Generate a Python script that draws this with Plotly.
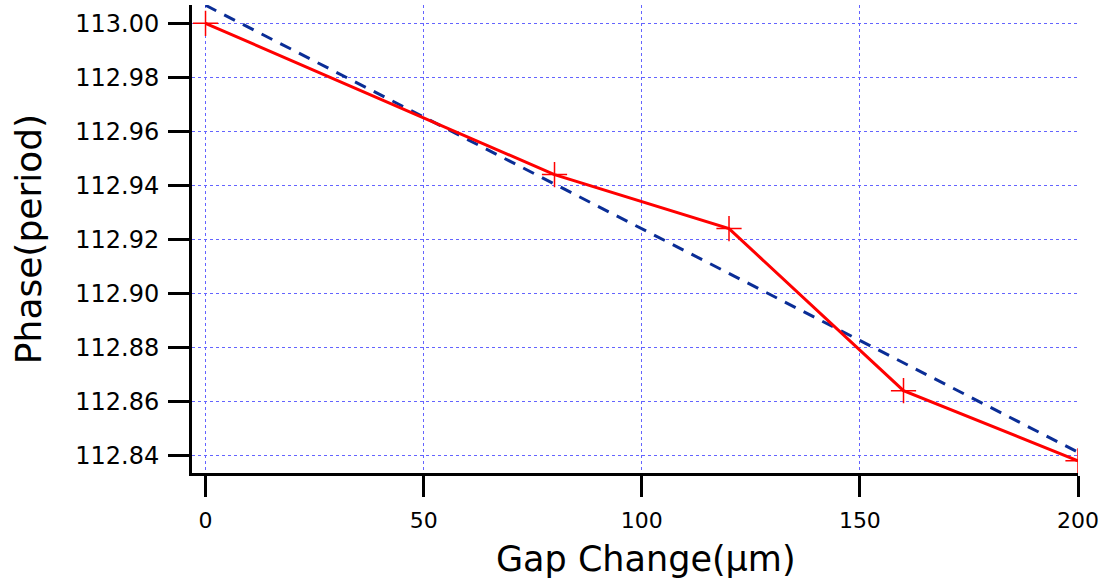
import plotly.graph_objects as go

gap = [0, 80, 120, 160, 200]
phase = [113.000, 112.944, 112.924, 112.864, 112.838]
fit_x = [0, 200]
fit_y = [113.0067, 112.8412]
y_ticks = [112.84, 112.86, 112.88, 112.90, 112.92, 112.94, 112.96, 112.98, 113.00]
x_ticks = [0, 50, 100, 150, 200]

fig = go.Figure()
fig.add_trace(go.Scatter(x=fit_x, y=fit_y, mode="lines",
                         line=dict(color="#0A2D96", width=3, dash="12px,9px"),
                         showlegend=False))
fig.add_trace(go.Scatter(x=gap, y=phase, mode="lines+markers",
                         line=dict(color="#FF0000", width=3),
                         marker=dict(symbol="cross-thin", size=18,
                                     line=dict(color="#FF0000", width=1.5)),
                         showlegend=False))

font = "DejaVu Sans, Liberation Sans, sans-serif"
grid = "#6464FF"
fig.update_layout(
    width=1107, height=581,
    margin=dict(l=192, r=29, t=5, b=108),
    plot_bgcolor="white", paper_bgcolor="white",
    font=dict(family=font, color="black"),
    xaxis=dict(range=[-3.1, 200], tickvals=x_ticks, ticktext=[str(v) for v in x_ticks],
               showline=True, linecolor="black", linewidth=3,
               ticks="outside", ticklen=21, tickwidth=3, tickcolor="black",
               showgrid=True, gridcolor=grid, griddash="3px,3px", gridwidth=1,
               zeroline=False, tickfont=dict(size=22), ticklabelstandoff=5),
    yaxis=dict(range=[112.8335, 113.0068], tickvals=y_ticks,
               ticktext=["%.2f" % v for v in y_ticks],
               showline=True, linecolor="black", linewidth=3,
               ticks="outside", ticklen=21, tickwidth=3, tickcolor="black",
               showgrid=True, gridcolor=grid, griddash="3px,3px", gridwidth=1,
               zeroline=False, tickfont=dict(size=24), ticklabelstandoff=4,
               title=dict(text="Phase(period)", font=dict(size=36), standoff=23)),
    annotations=[dict(text="Gap Change(\u03bcm)", xref="paper", yref="paper",
                      x=0.5124, y=-0.183, xanchor="center", yanchor="middle",
                      showarrow=False, font=dict(size=35, family=font, color="black"))],
)
fig.write_html("out.html")
